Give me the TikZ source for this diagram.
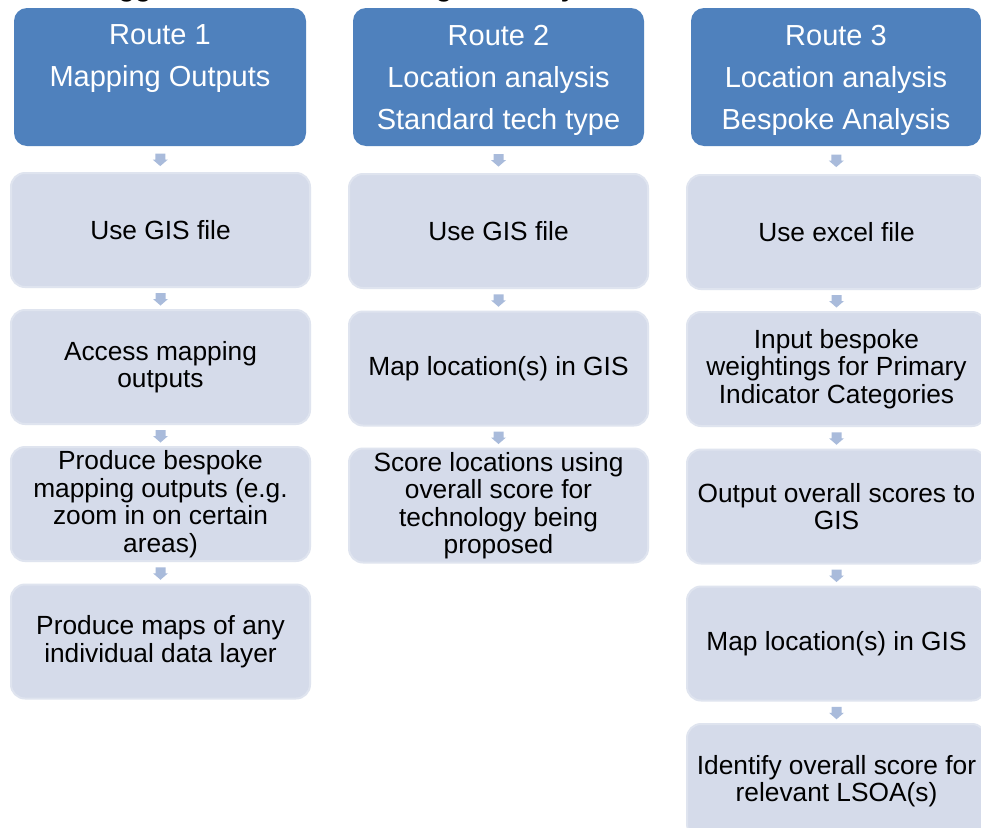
\documentclass[tikz,border=0pt]{standalone}
\usepackage{fontspec}
\setmainfont{Liberation Sans}
\usetikzlibrary{calc}
\definecolor{hblue}{HTML}{4F81BD}
\definecolor{bfill}{HTML}{D5DBEA}
\definecolor{bline}{HTML}{DFE4EF}
\definecolor{afill}{HTML}{A9BBDB}
\tikzset{
  hdr/.style={rectangle, rounded corners=13pt, fill=hblue, minimum height=138pt, inner sep=0pt},
  hdrtxt/.style={text=white, align=center, font=\fontsize{29}{42}\selectfont, inner sep=0pt},
  stepbox/.style={rectangle, rounded corners=14pt, fill=bfill, draw=bline, line width=2pt,
    minimum width=299pt, minimum height=114pt, inner sep=0pt, align=center,
    font=\fontsize{26.3}{27.5}\selectfont},
  arrowfill/.style={fill=afill}
}
\newcommand{\flowarrow}[2]{%
  \path ($(#1.south)!0.5!(#2.north)$) coordinate (m-#1-#2);
  \fill[arrowfill] ($(m-#1-#2)+(-5,-5.5)$) -- ($(m-#1-#2)+(5,-5.5)$) -- ($(m-#1-#2)+(5,0.5)$)
    -- ($(m-#1-#2)+(7.5,0.5)$) -- ($(m-#1-#2)+(0,7)$) -- ($(m-#1-#2)+(-7.5,0.5)$)
    -- ($(m-#1-#2)+(-5,0.5)$) -- cycle;}
\begin{document}
\begin{tikzpicture}[x=1pt,y=-1pt]
\useasboundingbox (0,0) rectangle (981,827);
\begin{scope}
\clip (0,0) rectangle (981,827);
\fill[white] (0,0) rectangle (981,827);
% title (cut off at top)
\node[anchor=base west, inner sep=0pt, font=\bfseries\fontsize{26.8}{30}\selectfont] (title) at (10,-3)
  {3.1\hspace{37pt}Suggested methods of using the analysis tool};
% headers
\node[hdr, minimum width=292pt] (h1) at (160,77) {};
\node[hdr, minimum width=291pt] (h2) at (498.5,77) {};
\node[hdr, minimum width=290pt] (h3) at (836,77) {};
\node[hdrtxt] (t1) at (160,59) {Route 1\\Mapping Outputs};
\node[hdrtxt] (t2) at (498.5,80) {Route 2\\Location analysis\\Standard tech type};
\node[hdrtxt] (t3) at (836,80) {Route 3\\Location analysis\\Bespoke Analysis};
% column 1
\node[stepbox] (a1) at (160.5,230) {Use GIS file};
\node[stepbox] (a2) at (160.5,367) {Access mapping\\outputs};
\node[stepbox] (a3) at (160.5,504) {Produce bespoke\\mapping outputs (e.g.\\zoom in on certain\\areas)};
\node[stepbox] (a4) at (160.5,641.5) {Produce maps of any\\individual data layer};
% column 2
\node[stepbox] (b1) at (498.5,231) {Use GIS file};
\node[stepbox] (b2) at (498.5,368.5) {Map location(s) in GIS};
\node[stepbox] (b3) at (498.5,505.5) {Score locations using\\overall score for\\technology being\\proposed};
% column 3
\node[stepbox] (c1) at (836.5,232) {Use excel file};
\node[stepbox] (c2) at (836.5,369) {Input bespoke\\weightings for Primary\\Indicator Categories};
\node[stepbox] (c3) at (836.5,506.5) {Output overall scores to\\GIS};
\node[stepbox] (c4) at (836.5,643.5) {Map location(s) in GIS};
\node[stepbox] (c5) at (836.5,781) {Identify overall score for\\relevant LSOA(s)};
% arrows
\flowarrow{h1}{a1}\flowarrow{a1}{a2}\flowarrow{a2}{a3}\flowarrow{a3}{a4}
\flowarrow{h2}{b1}\flowarrow{b1}{b2}\flowarrow{b2}{b3}
\flowarrow{h3}{c1}\flowarrow{c1}{c2}\flowarrow{c2}{c3}\flowarrow{c3}{c4}\flowarrow{c4}{c5}
\end{scope}
\end{tikzpicture}
\end{document}
